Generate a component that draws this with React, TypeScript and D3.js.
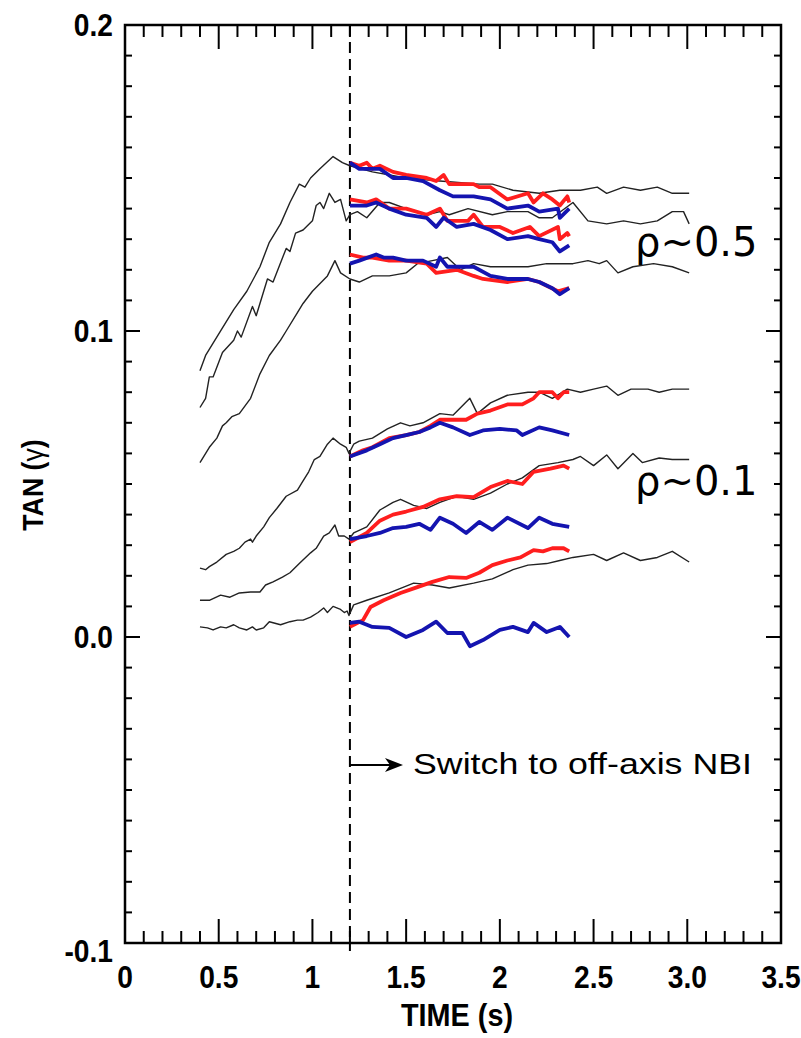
import * as d3 from 'd3';

type Pt = [number, number];

// axis ticks
const X_TICKS = [0, 0.5, 1, 1.5, 2, 2.5, 3, 3.5];
const X_TICK_LABELS = ['0', '0.5', '1', '1.5', '2', '2.5', '3.0', '3.5'];
const Y_TICKS = [-0.1, 0, 0.1, 0.2];
const Y_TICK_LABELS = ['-0.1', '0.0', '0.1', '0.2'];
const SWITCH_TIME = 1.2;

// rho ~ 0.5 group: thin black traces
const black1: Pt[] = [
  [0.40, 0.087], [0.43, 0.092], [0.47, 0.096], [0.52, 0.101], [0.58, 0.107], [0.65, 0.113],
  [0.72, 0.121], [0.77, 0.129], [0.83, 0.135], [0.88, 0.142], [0.93, 0.148], [0.96, 0.147],
  [0.99, 0.150], [1.04, 0.153], [1.11, 0.157], [1.16, 0.155], [1.20, 0.154], [1.32, 0.152],
  [1.50, 0.150], [1.68, 0.149], [1.89, 0.148], [1.96, 0.148], [2.07, 0.146], [2.21, 0.145],
  [2.32, 0.146], [2.43, 0.146], [2.52, 0.147], [2.57, 0.145], [2.66, 0.147], [2.75, 0.146],
  [2.84, 0.147], [2.92, 0.145], [3.01, 0.145],
];
const black2: Pt[] = [
  [0.40, 0.075], [0.43, 0.078], [0.45, 0.085], [0.47, 0.085], [0.52, 0.093], [0.58, 0.097],
  [0.60, 0.100], [0.62, 0.098], [0.68, 0.108], [0.70, 0.105], [0.76, 0.117], [0.79, 0.116],
  [0.86, 0.127], [0.88, 0.126], [0.91, 0.132], [0.95, 0.133], [1.00, 0.136], [1.02, 0.141],
  [1.04, 0.142], [1.06, 0.140], [1.09, 0.145], [1.12, 0.142], [1.15, 0.143], [1.18, 0.136],
  [1.20, 0.138], [1.24, 0.139], [1.29, 0.137], [1.36, 0.142], [1.41, 0.142], [1.50, 0.140],
  [1.61, 0.138], [1.68, 0.139], [1.73, 0.138], [1.83, 0.140], [1.96, 0.138], [2.04, 0.139],
  [2.15, 0.139], [2.21, 0.137], [2.28, 0.137], [2.39, 0.142], [2.47, 0.136], [2.57, 0.135],
  [2.66, 0.136], [2.75, 0.135], [2.84, 0.136], [2.92, 0.139], [2.98, 0.139], [3.01, 0.135],
];
const black3: Pt[] = [
  [0.40, 0.057], [0.45, 0.062], [0.49, 0.065], [0.52, 0.069], [0.54, 0.070], [0.57, 0.072],
  [0.61, 0.073], [0.67, 0.078], [0.72, 0.086], [0.77, 0.092], [0.83, 0.097], [0.86, 0.100],
  [0.92, 0.106], [0.95, 0.109], [1.00, 0.113], [1.08, 0.118], [1.12, 0.123], [1.15, 0.119],
  [1.20, 0.117], [1.25, 0.116], [1.32, 0.118], [1.41, 0.118], [1.50, 0.119], [1.56, 0.122],
  [1.64, 0.123], [1.72, 0.124], [1.79, 0.120], [1.86, 0.122], [1.95, 0.121], [2.04, 0.121],
  [2.15, 0.121], [2.25, 0.122], [2.39, 0.122], [2.47, 0.123], [2.53, 0.122], [2.57, 0.123],
  [2.63, 0.119], [2.71, 0.121], [2.82, 0.122], [2.92, 0.121], [3.01, 0.119],
];

// rho ~ 0.5 group: red / blue
const red1: Pt[] = [
  [1.20, 0.155], [1.25, 0.154], [1.29, 0.155], [1.32, 0.153], [1.36, 0.154], [1.43, 0.152],
  [1.50, 0.151], [1.61, 0.150], [1.66, 0.149], [1.70, 0.151], [1.73, 0.148], [1.86, 0.148],
  [1.89, 0.147], [1.95, 0.147], [2.04, 0.143], [2.15, 0.145], [2.18, 0.142], [2.23, 0.145],
  [2.28, 0.143], [2.32, 0.141], [2.36, 0.144], [2.37, 0.142],
];
const blue1: Pt[] = [
  [1.20, 0.155], [1.25, 0.153], [1.31, 0.153], [1.36, 0.153], [1.43, 0.150], [1.50, 0.150],
  [1.59, 0.149], [1.68, 0.146], [1.75, 0.144], [1.86, 0.144], [1.95, 0.143], [2.04, 0.140],
  [2.15, 0.141], [2.21, 0.139], [2.31, 0.140], [2.32, 0.137], [2.37, 0.140],
];
const red2: Pt[] = [
  [1.20, 0.143], [1.29, 0.142], [1.34, 0.143], [1.41, 0.140], [1.50, 0.140], [1.61, 0.138],
  [1.68, 0.140], [1.72, 0.136], [1.83, 0.136], [1.86, 0.138], [1.91, 0.134], [2.00, 0.134],
  [2.07, 0.132], [2.16, 0.134], [2.21, 0.131], [2.31, 0.134], [2.32, 0.130], [2.36, 0.132],
  [2.37, 0.131],
];
const blue2: Pt[] = [
  [1.20, 0.141], [1.29, 0.141], [1.34, 0.142], [1.41, 0.140], [1.50, 0.138], [1.61, 0.137],
  [1.66, 0.134], [1.70, 0.137], [1.77, 0.134], [1.86, 0.135], [1.95, 0.133], [2.04, 0.130],
  [2.15, 0.131], [2.21, 0.130], [2.28, 0.129], [2.32, 0.126], [2.37, 0.128],
];
const red3: Pt[] = [
  [1.20, 0.125], [1.27, 0.124], [1.32, 0.124], [1.41, 0.123], [1.50, 0.123], [1.61, 0.122],
  [1.66, 0.119], [1.77, 0.120], [1.86, 0.118], [1.91, 0.117], [2.04, 0.116], [2.15, 0.117],
  [2.21, 0.116], [2.31, 0.113], [2.37, 0.114],
];
const blue3: Pt[] = [
  [1.20, 0.122], [1.25, 0.123], [1.34, 0.125], [1.38, 0.124], [1.43, 0.124], [1.50, 0.123],
  [1.59, 0.123], [1.66, 0.121], [1.68, 0.124], [1.72, 0.121], [1.86, 0.121], [1.95, 0.118],
  [2.04, 0.117], [2.15, 0.117], [2.21, 0.116], [2.28, 0.114], [2.32, 0.112], [2.37, 0.114],
];

// rho ~ 0.1 group: thin black traces
const black4: Pt[] = [
  [0.40, 0.0225], [0.43, 0.022], [0.45, 0.023], [0.49, 0.0245], [0.54, 0.027], [0.58, 0.028],
  [0.61, 0.029], [0.64, 0.031], [0.67, 0.032], [0.68, 0.031], [0.70, 0.033], [0.74, 0.036],
  [0.77, 0.039], [0.81, 0.042], [0.86, 0.046], [0.92, 0.048], [0.95, 0.051], [0.98, 0.054],
  [1.01, 0.058], [1.04, 0.059], [1.08, 0.063], [1.11, 0.065], [1.15, 0.063], [1.18, 0.062],
  [1.195, 0.060], [1.22, 0.063], [1.25, 0.064], [1.32, 0.065], [1.40, 0.068], [1.47, 0.070],
  [1.52, 0.069], [1.59, 0.070], [1.68, 0.073], [1.75, 0.0725], [1.84, 0.078], [1.88, 0.073],
  [1.95, 0.0765], [2.04, 0.079], [2.15, 0.080], [2.21, 0.080], [2.28, 0.078], [2.36, 0.081],
  [2.43, 0.080], [2.50, 0.081], [2.57, 0.082], [2.63, 0.079], [2.70, 0.081], [2.79, 0.081],
  [2.85, 0.080], [2.92, 0.081], [3.01, 0.081],
];
const black5: Pt[] = [
  [0.40, 0.012], [0.45, 0.012], [0.51, 0.0137], [0.56, 0.013], [0.61, 0.0144], [0.67, 0.0147],
  [0.72, 0.0147], [0.75, 0.017], [0.79, 0.018], [0.84, 0.0196], [0.88, 0.021], [0.93, 0.024],
  [0.99, 0.0275], [1.02, 0.029], [1.06, 0.033], [1.09, 0.034], [1.12, 0.0366], [1.14, 0.033],
  [1.17, 0.033], [1.195, 0.032], [1.22, 0.034], [1.29, 0.036], [1.36, 0.0415], [1.43, 0.044],
  [1.47, 0.045], [1.54, 0.043], [1.61, 0.042], [1.68, 0.044], [1.77, 0.046], [1.86, 0.045],
  [1.95, 0.047], [2.04, 0.050], [2.12, 0.052], [2.21, 0.056], [2.31, 0.057], [2.39, 0.058],
  [2.43, 0.059], [2.50, 0.056], [2.57, 0.0595], [2.63, 0.055], [2.71, 0.060], [2.76, 0.057],
  [2.85, 0.0585], [2.92, 0.058], [3.01, 0.058],
];
const black6: Pt[] = [
  [0.40, 0.0033], [0.44, 0.003], [0.47, 0.0023], [0.51, 0.0033], [0.54, 0.003], [0.58, 0.004],
  [0.61, 0.003], [0.65, 0.0023], [0.68, 0.0033], [0.70, 0.0023], [0.74, 0.003], [0.77, 0.005],
  [0.83, 0.004], [0.88, 0.005], [0.92, 0.0055], [0.95, 0.0055], [0.99, 0.0065], [1.03, 0.008],
  [1.06, 0.0095], [1.08, 0.008], [1.11, 0.010], [1.15, 0.009], [1.17, 0.008], [1.185, 0.0085],
  [1.195, 0.007], [1.22, 0.0105], [1.29, 0.012], [1.41, 0.0144], [1.54, 0.0176], [1.64, 0.017],
  [1.73, 0.016], [1.86, 0.0176], [1.96, 0.019], [2.07, 0.022], [2.15, 0.0235], [2.25, 0.024],
  [2.32, 0.025], [2.39, 0.026], [2.50, 0.027], [2.57, 0.025], [2.66, 0.0275], [2.75, 0.025],
  [2.84, 0.026], [2.92, 0.028], [3.01, 0.0245],
];

// rho ~ 0.1 group: red / blue
const red4: Pt[] = [
  [1.20, 0.059], [1.27, 0.061], [1.32, 0.062], [1.41, 0.065], [1.50, 0.066], [1.57, 0.067],
  [1.63, 0.069], [1.68, 0.071], [1.75, 0.071], [1.82, 0.071], [1.88, 0.073], [1.95, 0.074],
  [2.04, 0.076], [2.12, 0.076], [2.18, 0.078], [2.21, 0.080], [2.28, 0.080], [2.31, 0.078],
  [2.34, 0.080], [2.37, 0.080],
];
const blue4: Pt[] = [
  [1.20, 0.059], [1.29, 0.061], [1.36, 0.063], [1.43, 0.065], [1.50, 0.066], [1.57, 0.067],
  [1.63, 0.0685], [1.68, 0.070], [1.75, 0.0685], [1.84, 0.066], [1.91, 0.0675], [2.00, 0.068],
  [2.09, 0.0675], [2.12, 0.066], [2.21, 0.0685], [2.28, 0.0675], [2.37, 0.066],
];
const red5: Pt[] = [
  [1.20, 0.031], [1.29, 0.034], [1.36, 0.038], [1.43, 0.040], [1.50, 0.041], [1.59, 0.0425],
  [1.68, 0.045], [1.77, 0.046], [1.86, 0.0457], [1.95, 0.049], [2.04, 0.051], [2.12, 0.050],
  [2.18, 0.054], [2.27, 0.055], [2.34, 0.056], [2.37, 0.055],
];
const blue5: Pt[] = [
  [1.20, 0.032], [1.29, 0.033], [1.36, 0.034], [1.43, 0.0356], [1.50, 0.036], [1.57, 0.037],
  [1.63, 0.035], [1.68, 0.039], [1.75, 0.037], [1.82, 0.034], [1.89, 0.0376], [1.96, 0.035],
  [2.04, 0.039], [2.15, 0.0356], [2.21, 0.039], [2.28, 0.037], [2.37, 0.036],
];
const red6: Pt[] = [
  [1.20, 0.0033], [1.27, 0.0055], [1.31, 0.0098], [1.38, 0.012], [1.47, 0.0144], [1.56, 0.0163],
  [1.64, 0.018], [1.73, 0.0196], [1.82, 0.0193], [1.89, 0.021], [1.96, 0.0235], [2.04, 0.025],
  [2.11, 0.026], [2.18, 0.0284], [2.23, 0.028], [2.28, 0.029], [2.34, 0.029], [2.37, 0.028],
];
const blue6: Pt[] = [
  [1.20, 0.0046], [1.25, 0.005], [1.32, 0.0033], [1.41, 0.003], [1.50, 0.000], [1.59, 0.0023],
  [1.66, 0.005], [1.72, 0.0013], [1.80, 0.0013], [1.84, -0.003], [1.91, -0.001], [2.00, 0.0023],
  [2.07, 0.0033], [2.15, 0.0016], [2.18, 0.0046], [2.25, 0.0016], [2.32, 0.0033], [2.37, 0.000],
];

const BLACK_SERIES = [black1, black2, black3, black4, black5, black6];
const RED_SERIES = [red1, red2, red3, red4, red5, red6];
const BLUE_SERIES = [blue1, blue2, blue3, blue4, blue5, blue6];

const W = 801;
const H = 1038;
const left = 125, right = 781, top = 25, bottom = 943;

export default function App() {
  const x = d3.scaleLinear().domain([0, 3.5]).range([left, right]);
  const y = d3.scaleLinear().domain([-0.1, 0.2]).range([bottom, top]);
  const line = d3.line<Pt>().x(d => x(d[0])).y(d => y(d[1]));

  const xMinor = d3.range(0, 3.5001, 0.1);
  const yMinor = d3.range(-0.1, 0.2001, 0.01);
  const isMajorX = (t: number) => Math.abs(t * 2 - Math.round(t * 2)) < 1e-6;
  const isMajorY = (v: number) => Math.abs(v * 10 - Math.round(v * 10)) < 1e-6;

  const boldFont = '"Liberation Sans", Arial, sans-serif';

  // arrow from the switch line to the note
  const arrowY = 765;
  const arrowTip = 403;

  return (
    <svg width={W} height={H} viewBox={`0 0 ${W} ${H}`}
      style={{ position: 'absolute', left: 0, top: 0, background: '#fff' }}>

      {/* ticks */}
      <g stroke="#000" strokeWidth={2}>
        {xMinor.map((t, i) => {
          const L = isMajorX(t) ? 24 : 12;
          return (
            <g key={'xt' + i}>
              <line x1={x(t)} x2={x(t)} y1={bottom} y2={bottom - L} />
              <line x1={x(t)} x2={x(t)} y1={top} y2={top + L} />
            </g>
          );
        })}
        {yMinor.map((v, i) => {
          const L = isMajorY(v) ? 15 : 7;
          return (
            <g key={'yt' + i}>
              <line x1={left} x2={left + L} y1={y(v)} y2={y(v)} />
              <line x1={right} x2={right - L} y1={y(v)} y2={y(v)} />
            </g>
          );
        })}
      </g>

      {/* frame */}
      <rect x={left} y={top} width={right - left} height={bottom - top}
        fill="none" stroke="#000" strokeWidth={2.5} />

      {/* tick labels */}
      <g fontFamily={boldFont} fontWeight="bold" fontSize={32} fill="#000">
        {X_TICKS.map((t, i) => (
          <text key={'xl' + i} transform={`translate(${x(t)},${bottom + 45}) scale(0.88,1)`}
            textAnchor="middle">{X_TICK_LABELS[i]}</text>
        ))}
        {Y_TICKS.map((v, i) => (
          <text key={'yl' + i}
            transform={`translate(${left - 12},${y(v) + (v < -0.05 ? 19 : 11)}) scale(0.88,1)`}
            textAnchor="end">{Y_TICK_LABELS[i]}</text>
        ))}
      </g>

      {/* axis titles */}
      <text transform={`translate(${(left + right) / 2 + 4},${1026}) scale(0.9,1)`}
        textAnchor="middle" fontFamily={boldFont} fontWeight="bold" fontSize={32}>TIME (s)</text>
      <text transform={`translate(43,${485}) rotate(-90) scale(0.92,1)`}
        textAnchor="middle" fontFamily={boldFont} fontWeight="bold" fontSize={29}>
        TAN (<tspan fontWeight="normal">γ</tspan>)
      </text>

      {/* switch marker */}
      <line x1={x(SWITCH_TIME)} x2={x(SWITCH_TIME)} y1={top} y2={bottom + 8}
        stroke="#000" strokeWidth={2} strokeDasharray="11,6" />

      {/* traces */}
      <g fill="none" strokeLinejoin="round">
        {BLACK_SERIES.map((s, i) => (
          <path key={'k' + i} d={line(s) || ''} stroke="#222" strokeWidth={1.4} />
        ))}
        {RED_SERIES.map((s, i) => (
          <path key={'r' + i} d={line(s) || ''} stroke="#ff1e1e" strokeWidth={3.8} />
        ))}
        {BLUE_SERIES.map((s, i) => (
          <path key={'b' + i} d={line(s) || ''} stroke="#1414b0" strokeWidth={3.8} />
        ))}
      </g>

      {/* annotations */}
      <line x1={x(SWITCH_TIME)} x2={arrowTip - 10} y1={arrowY} y2={arrowY} stroke="#000" strokeWidth={2} />
      <path d={`M${arrowTip},${arrowY} L${arrowTip - 18},${arrowY - 7} L${arrowTip - 13},${arrowY} L${arrowTip - 18},${arrowY + 7} Z`}
        fill="#000" />
      <text x={413} y={774} fontFamily='"Liberation Sans", Arial, sans-serif' fontSize={29}
        textLength={339} lengthAdjust="spacingAndGlyphs">Switch to off-axis NBI</text>
      <text x={635} y={256} fontFamily='"DejaVu Sans", sans-serif' fontSize={40}>ρ~0.5</text>
      <text x={635} y={495} fontFamily='"DejaVu Sans", sans-serif' fontSize={40}>ρ~0.1</text>
    </svg>
  );
}
